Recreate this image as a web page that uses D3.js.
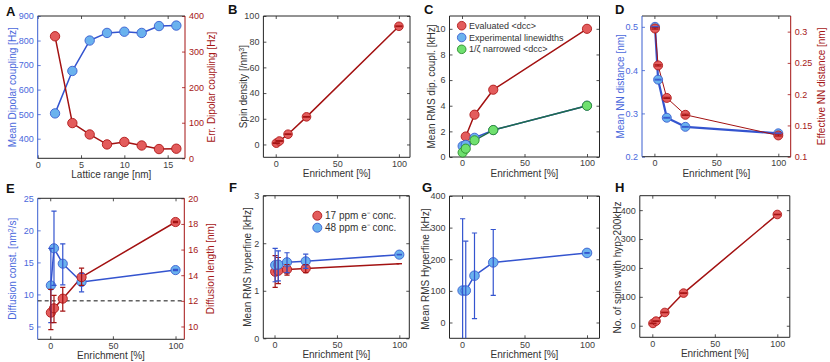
<!DOCTYPE html>
<html><head><meta charset="utf-8">
<script src="https://cdn.jsdelivr.net/npm/d3@7"></script>
<style>
body{margin:0;background:#fff}
svg{display:block}
text{font-family:"Liberation Sans",Arial,sans-serif}
</style>
</head><body>
<svg id="c" width="830" height="362"></svg>
<script>
// ---------------- DATA ----------------
const latticeRange = [2, 4, 6, 8, 10, 12, 14, 16];
const meanDipolar  = [503, 676, 800, 831, 836, 831, 859, 861];
const errDipolar   = [343, 99, 67, 39, 46, 36, 26, 27];

const enrichment = [0.5, 3, 10, 25, 100];
const enrichmentEval = [3, 10, 25, 100];

const spinDensity = [1.0, 2.7, 8.0, 21.5, 92];
const spinDensityErr = [0.3, 0.3, 0.3, 0.3, 0.3];

const evaluatedDcc = [1.6, 3.3, 5.25, 10.0];
const expLinewidths = [0.85, 0.95, 1.5, 2.1, 4.0];
const narrowedDcc = [0.35, 0.65, 1.3, 2.1, 4.0];

const meanNN = [0.5, 0.378, 0.29, 0.269, 0.254];
const meanNNErr = [0.001, 0.001, 0.001, 0.001, 0.001];
const effNN = [0.305, 0.246, 0.194, 0.167, 0.134];
const effNNErr = [0.001, 0.001, 0.001, 0.001, 0.001];

const diffConst = [11.4, 17.2, 14.8, 11.95, 13.8];
const diffConstLo = [5.6, 11.4, 11.5, 10.4, 13.7];
const diffConstHi = [17.2, 23.0, 17.9, 13.3, 13.9];
const diffLength = [11.08, 11.42, 12.17, 13.85, 18.15];
const diffLengthLo = [9.75, 10.3, 11.2, 13.2, 18.1];
const diffLengthHi = [12.9, 12.43, 13.05, 14.55, 18.2];
const diffLengthRef = 12;

const hf17 = [1.4, 1.42, 1.45, 1.47, 1.57];
const hf17Lo = [1.07, 1.15, 1.33, 1.38, 1.57];
const hf17Hi = [1.74, 1.70, 1.55, 1.55, 1.57];
const hf17Marker = [true, true, true, true, false];
const hf48 = [1.54, 1.55, 1.6, 1.62, 1.76];
const hf48Lo = [1.19, 1.21, 1.38, 1.47, 1.755];
const hf48Hi = [1.89, 1.84, 1.80, 1.77, 1.765];

const rmsHyperfine = [101, 101, 148, 190, 220];
const rmsHyperfineLo = [-200, -200, 12, 86, 219];
const rmsHyperfineHi = [328, 257, 283, 294, 221];

const spinsHyp200 = [8, 16, 46, 113, 385];
const spinsHyp200Err = [1, 1, 1, 1, 1];

const ticksA_x = [0, 5, 10, 15];
const ticksA_y = [400, 500, 600, 700, 800, 900];
const ticksA_y2 = [0, 100, 200, 300, 400];
const ticksEnr = [0, 50, 100];
const ticksB_y = [0, 20, 40, 60, 80, 100];
const ticksC_y = [0, 2, 4, 6, 8, 10];
const ticksD_y = [0.2, 0.3, 0.4, 0.5];
const ticksD_y2 = [0.1, 0.15, 0.2, 0.25, 0.3];
const ticksE_y = [5, 10, 15, 20, 25];
const ticksE_y2 = [10, 12, 14, 16, 18, 20];
const ticksF_y = [0, 1, 2, 3];
const ticksG_y = [0, 100, 200, 300, 400];
const ticksH_y = [0, 100, 200, 300, 400];

// ---------------- STYLE ----------------
const BLUE_LINE = "#3454cf", BLUE_FILL = "#6ab2ee", BLUE_EDGE = "#3b5fd0", BLUE_TXT = "#4a68dc";
const RED_LINE = "#a31212", RED_FILL = "#e35c5c", RED_EDGE = "#b01a1a", RED_TXT = "#a51616";
const GREEN_FILL = "#6fe06f", GREEN_EDGE = "#2b8c2b", GREEN_LINE = "#1f6b4a";
const AX = "#262626", TICK_TXT = "#404040", TITLE_TXT = "#333";

const svg = d3.select("#c");
const defs = svg.append("defs");

function panel(o) {
  const x = d3.scaleLinear().domain(o.xd).range([o.l, o.r]);
  const y = d3.scaleLinear().domain(o.yd).range([o.b, o.t]);
  const y2 = o.y2d ? d3.scaleLinear().domain(o.y2d).range([o.b, o.t]) : null;
  const g = svg.append("g");
  const cid = "clip-" + o.name;
  defs.append("clipPath").attr("id", cid).append("rect")
    .attr("x", o.l).attr("y", o.t).attr("width", o.r - o.l).attr("height", o.b - o.t);
  const lc = o.leftColor || AX, rc = o.rightColor || AX;
  const ltc = o.leftColor ? o.leftTxt : TICK_TXT, rtc = o.rightColor ? o.rightTxt : TICK_TXT;

  const fmt = d => String(d);
  function style(sel, col, tcol) {
    sel.select(".domain").remove();
    sel.selectAll(".tick line").attr("stroke", col).attr("stroke-width", 0.8);
    sel.selectAll(".tick text").attr("fill", tcol).attr("font-size", 9)
      .attr("font-family", '"Liberation Sans",Arial,sans-serif');
  }
  style(g.append("g").attr("transform", `translate(0,${o.b})`)
    .call(d3.axisBottom(x).tickValues(o.xt).tickSizeInner(-3).tickSizeOuter(0).tickPadding(3).tickFormat(fmt)), AX, TICK_TXT);
  style(g.append("g").attr("transform", `translate(0,${o.t})`)
    .call(d3.axisTop(x).tickValues(o.xt).tickSizeInner(-3).tickSizeOuter(0).tickFormat("")), AX, TICK_TXT);
  style(g.append("g").attr("transform", `translate(${o.l},0)`)
    .call(d3.axisLeft(y).tickValues(o.yt).tickSizeInner(-3).tickSizeOuter(0).tickPadding(4).tickFormat(fmt)), lc, ltc);
  if (y2) {
    style(g.append("g").attr("transform", `translate(${o.r},0)`)
      .call(d3.axisRight(y2).tickValues(o.y2t).tickSizeInner(-3).tickSizeOuter(0).tickPadding(4).tickFormat(fmt)), rc, rtc);
  } else {
    style(g.append("g").attr("transform", `translate(${o.r},0)`)
      .call(d3.axisRight(y).tickValues(o.yt).tickSizeInner(-3).tickSizeOuter(0).tickFormat("")), AX, TICK_TXT);
  }
  // box
  const ln = (x1, y1, x2, y2_, c) => g.append("line").attr("x1", x1).attr("y1", y1).attr("x2", x2).attr("y2", y2_)
    .attr("stroke", c).attr("stroke-width", 1);
  ln(o.l, o.b, o.r, o.b, AX);
  ln(o.l, o.t, o.r, o.t, AX);
  ln(o.l, o.t, o.l, o.b, lc);
  ln(o.r, o.t, o.r, o.b, rc);

  // titles
  g.append("text").attr("x", (o.l + o.r) / 2).attr("y", o.b + 20).attr("text-anchor", "middle")
    .attr("font-size", 10).attr("fill", TITLE_TXT).text(o.xTitle);
  const yt = (cx, txt, col, dyc) => {
    const cy = (o.t + o.b) / 2 + (dyc || 0);
    const t = g.append("text").attr("transform", `translate(${cx},${cy}) rotate(-90)`)
      .attr("text-anchor", "middle").attr("dy", "0.35em").attr("font-size", 10).attr("fill", col);
    if (Array.isArray(txt)) txt.forEach(p => {
      const s = t.append("tspan").text(p.t);
      if (p.sup) s.attr("baseline-shift", "super").attr("font-size", 7);
    }); else t.text(txt);
  };
  yt(o.l - o.yTitleOff, o.yTitle, o.leftColor ? o.leftTxt : TITLE_TXT, o.yTitleDy);
  if (o.y2Title) yt(o.r + o.y2TitleOff, o.y2Title, o.rightTxt);
  // panel letter
  svg.append("text").attr("x", o.letterX).attr("y", o.letterY).attr("font-size", 13)
    .attr("font-weight", "bold").attr("fill", "#111").text(o.letter);

  const linesG = g.append("g").attr("clip-path", `url(#${cid})`);
  const markG = g.append("g");
  const errG = g.append("g").attr("clip-path", `url(#${cid})`);
  return { x, y, y2, linesG, markG, errG, o };
}

function series(p, xs, ys, s) {
  const ys_ = s.right ? p.y2 : p.y;
  const pts = xs.map((d, i) => ({ x: d, y: ys[i], i }));
  p.linesG.append("path").datum(pts)
    .attr("d", d3.line().x(d => p.x(d.x)).y(d => ys_(d.y)))
    .attr("fill", "none").attr("stroke", s.line).attr("stroke-width", s.lw || 1.5)
    .attr("stroke-linejoin", "round");
  const mk = s.markers ? pts.filter(d => s.markers[d.i]) : pts;
  p.markG.selectAll(null).data(mk).join("circle")
    .attr("cx", d => p.x(d.x)).attr("cy", d => ys_(d.y)).attr("r", s.r || 4.5)
    .attr("fill", s.fill).attr("stroke", s.edge).attr("stroke-width", 0.9);
  if (s.lo) {
    const cw = s.cap || 2.6;
    pts.forEach(d => {
      const xx = p.x(d.x), ylo = ys_(s.lo[d.i]), yhi = ys_(s.hi[d.i]);
      const g = p.errG.append("g").attr("stroke", s.errColor || s.line).attr("stroke-width", s.elw || 1.2);
      g.append("line").attr("x1", xx).attr("x2", xx).attr("y1", ylo).attr("y2", yhi);
      g.append("line").attr("x1", xx - cw).attr("x2", xx + cw).attr("y1", ylo).attr("y2", ylo);
      g.append("line").attr("x1", xx - cw).attr("x2", xx + cw).attr("y1", yhi).attr("y2", yhi);
    });
  }
}

// ---------------- PANEL A ----------------
const pA = panel({ name: "A", letter: "A", letterX: 6, letterY: 16,
  l: 37.7, r: 185, t: 16, b: 158.3, xd: [0, 17], yd: [320, 900], y2d: [0, 400],
  xt: ticksA_x, yt: ticksA_y, y2t: ticksA_y2,
  leftColor: BLUE_EDGE, leftTxt: BLUE_TXT, rightColor: RED_LINE, rightTxt: RED_TXT,
  xTitle: "Lattice range [nm]", yTitle: "Mean Dipolar coupling [Hz]", yTitleOff: 25,
  y2Title: "Err. Dipolar coupling [Hz]", y2TitleOff: 26 });
series(pA, latticeRange, meanDipolar, { line: BLUE_LINE, fill: BLUE_FILL, edge: BLUE_EDGE, r: 4.7 });
series(pA, latticeRange, errDipolar, { right: true, line: RED_LINE, fill: RED_FILL, edge: RED_EDGE, r: 4.7 });

// ---------------- PANEL B ----------------
const pB = panel({ name: "B", letter: "B", letterX: 228, letterY: 14,
  l: 263.4, r: 410, t: 16, b: 157.3, xd: [-10, 109], yd: [-10, 100],
  xt: ticksEnr, yt: ticksB_y,
  xTitle: "Enrichment [%]", yTitle: [{ t: "Spin density [/nm" }, { t: "3", sup: true }, { t: "]" }], yTitleOff: 20 });
series(pB, enrichment, spinDensity, { line: RED_LINE, fill: RED_FILL, edge: RED_EDGE, r: 4.3,
  lo: spinDensity.map((v, i) => v - spinDensityErr[i]), hi: spinDensity.map((v, i) => v + spinDensityErr[i]), cap: 3.5, elw: 1 });

// ---------------- PANEL C ----------------
const pC = panel({ name: "C", letter: "C", letterX: 424, letterY: 14,
  l: 449.5, r: 599.5, t: 16, b: 157, xd: [-10, 110], yd: [0, 11],
  xt: ticksEnr, yt: ticksC_y,
  xTitle: "Enrichment [%]", yTitle: "Mean RMS dip. coupl. [kHz]", yTitleOff: 18 });
series(pC, enrichmentEval, evaluatedDcc, { line: RED_LINE, fill: RED_FILL, edge: RED_EDGE, r: 4.6 });
series(pC, enrichment, expLinewidths, { line: BLUE_LINE, fill: BLUE_FILL, edge: BLUE_EDGE, r: 4.6 });
series(pC, enrichment, narrowedDcc, { line: GREEN_LINE, fill: GREEN_FILL, edge: GREEN_EDGE, r: 4.6 });
const legC = [
  { t: "Evaluated <dcc>", f: RED_FILL, e: RED_EDGE },
  { t: "Experimental linewidths", f: BLUE_FILL, e: BLUE_EDGE },
  { t: "1/\u03B6 narrowed <dcc>", f: GREEN_FILL, e: GREEN_EDGE }];
legC.forEach((d, i) => {
  const yy = 25.7 + i * 11.8;
  svg.append("circle").attr("cx", 461.7).attr("cy", yy).attr("r", 4.3).attr("fill", d.f).attr("stroke", d.e).attr("stroke-width", 0.9);
  svg.append("text").attr("x", 469).attr("y", yy).attr("dy", "0.35em").attr("font-size", 9).attr("fill", TITLE_TXT).text(d.t);
});

// ---------------- PANEL D ----------------
const pD = panel({ name: "D", letter: "D", letterX: 615, letterY: 14,
  l: 642, r: 790.7, t: 16, b: 156.7, xd: [-10, 110], yd: [0.2, 0.525], y2d: [0.1, 0.325],
  xt: ticksEnr, yt: ticksD_y, y2t: ticksD_y2,
  leftColor: BLUE_EDGE, leftTxt: BLUE_TXT, rightColor: RED_LINE, rightTxt: RED_TXT,
  xTitle: "Enrichment [%]", yTitle: "Mean NN distance [nm]", yTitleOff: 22,
  y2Title: "Effective NN distance [nm]", y2TitleOff: 31 });
series(pD, enrichment, meanNN, { line: BLUE_LINE, lw: 2.2, fill: BLUE_FILL, edge: BLUE_EDGE, r: 4.5,
  lo: meanNN.map((v, i) => v - meanNNErr[i]), hi: meanNN.map((v, i) => v + meanNNErr[i]), cap: 3.5, elw: 1 });
series(pD, enrichment, effNN, { right: true, line: RED_LINE, lw: 1, fill: RED_FILL, edge: RED_EDGE, r: 4.5,
  lo: effNN.map((v, i) => v - effNNErr[i]), hi: effNN.map((v, i) => v + effNNErr[i]), cap: 3.5, elw: 1 });

// ---------------- PANEL E ----------------
const pE = panel({ name: "E", letter: "E", letterX: 6, letterY: 193,
  l: 37.7, r: 184.3, t: 198.3, b: 339.3, xd: [-10, 107], yd: [3, 25], y2d: [9, 20],
  xt: ticksEnr, yt: ticksE_y, y2t: ticksE_y2,
  leftColor: BLUE_EDGE, leftTxt: BLUE_TXT, rightColor: RED_LINE, rightTxt: RED_TXT,
  xTitle: "Enrichment [%]", yTitle: [{ t: "Diffusion const. [nm" }, { t: "2", sup: true }, { t: "/s]" }], yTitleOff: 25,
  y2Title: "Diffusion length [nm]", y2TitleOff: 26 });
pE.linesG.append("line").attr("x1", 37.7).attr("x2", 184.3)
  .attr("y1", pE.y2(diffLengthRef)).attr("y2", pE.y2(diffLengthRef))
  .attr("stroke", "#111").attr("stroke-width", 1).attr("stroke-dasharray", "4,3");
series(pE, enrichment, diffConst, { line: BLUE_LINE, fill: BLUE_FILL, edge: BLUE_EDGE, r: 4.6,
  lo: diffConstLo, hi: diffConstHi });
series(pE, enrichment, diffLength, { right: true, line: RED_LINE, fill: RED_FILL, edge: RED_EDGE, r: 4.6,
  lo: diffLengthLo, hi: diffLengthHi });

// ---------------- PANEL F ----------------
const pF = panel({ name: "F", letter: "F", letterX: 229, letterY: 192,
  l: 263.3, r: 409.3, t: 195.7, b: 338.3, xd: [-9, 108], yd: [0, 3],
  xt: ticksEnr, yt: ticksF_y,
  xTitle: "Enrichment [%]", yTitle: "Mean RMS hyperfine [kHz]", yTitleOff: 16 });
series(pF, enrichment, hf17, { line: RED_LINE, fill: RED_FILL, edge: RED_EDGE, r: 4.6, markers: hf17Marker,
  lo: hf17Lo, hi: hf17Hi });
series(pF, enrichment, hf48, { line: BLUE_LINE, fill: BLUE_FILL, edge: BLUE_EDGE, r: 4.6,
  lo: hf48Lo, hi: hf48Hi });
const legF = [
  { t: "17 ppm e\u207B conc.", f: RED_FILL, e: RED_EDGE },
  { t: "48 ppm e\u207B conc.", f: BLUE_FILL, e: BLUE_EDGE }];
legF.forEach((d, i) => {
  const yy = 215.7 + i * 12;
  svg.append("circle").attr("cx", 317.3).attr("cy", yy).attr("r", 4.5).attr("fill", d.f).attr("stroke", d.e).attr("stroke-width", 0.9);
  svg.append("text").attr("x", 325).attr("y", yy).attr("dy", "0.35em").attr("font-size", 10).attr("fill", TITLE_TXT).text(d.t);
});

// ---------------- PANEL G ----------------
const pG = panel({ name: "G", letter: "G", letterX: 422, letterY: 192,
  l: 449.5, r: 599.5, t: 196, b: 338.3, xd: [-10, 110], yd: [-50, 400],
  xt: ticksEnr, yt: ticksG_y,
  xTitle: "Enrichment [%]", yTitle: "Mean RMS Hyperfine [kHz]", yTitleOff: 24, yTitleDy: 2 });
series(pG, enrichment, rmsHyperfine, { line: BLUE_LINE, fill: BLUE_FILL, edge: BLUE_EDGE, r: 4.8,
  lo: rmsHyperfineLo, hi: rmsHyperfineHi });

// ---------------- PANEL H ----------------
const pH = panel({ name: "H", letter: "H", letterX: 615, letterY: 192,
  l: 639.8, r: 789.8, t: 195.7, b: 337.3, xd: [-10, 110], yd: [-40, 450],
  xt: ticksEnr, yt: ticksH_y,
  xTitle: "Enrichment [%]", yTitle: "No. of spins with hyp>200kHz", yTitleOff: 22, yTitleDy: 1 });
series(pH, enrichment, spinsHyp200, { line: RED_LINE, fill: RED_FILL, edge: RED_EDGE, r: 4.3,
  lo: spinsHyp200.map((v, i) => v - spinsHyp200Err[i]), hi: spinsHyp200.map((v, i) => v + spinsHyp200Err[i]), cap: 3.5, elw: 1 });
</script>
</body></html>
